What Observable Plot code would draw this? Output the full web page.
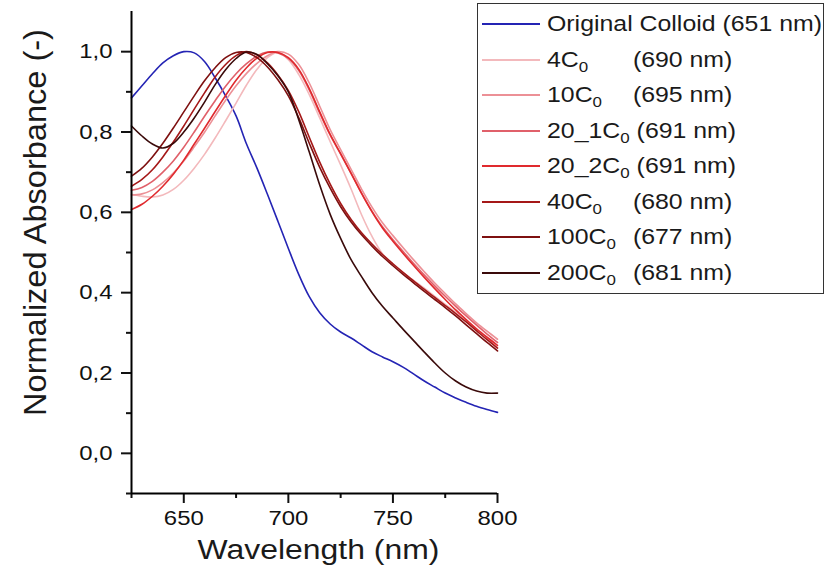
<!DOCTYPE html>
<html><head><meta charset="utf-8">
<script src="https://cdn.jsdelivr.net/npm/d3@7"></script>
<script src="https://cdn.jsdelivr.net/npm/@observablehq/plot@0.6"></script>
<style>
html,body{margin:0;padding:0;background:#fff;}
#wrap{position:relative;width:830px;height:575px;font-family:"Liberation Sans",Arial,sans-serif;}
#legend{position:absolute;left:477px;top:3px;width:347px;height:291px;border:1px solid #333;background:#fff;box-sizing:border-box;}
.swatch{position:absolute;left:4px;width:58px;height:0;border-top:2px solid;}
.lbl{position:absolute;left:69px;white-space:nowrap;font-size:22px;line-height:22px;transform:scaleX(1.13);transform-origin:left center;color:#1a1a1a;}
.name{display:inline-block;min-width:76px;}
.lbl sub{font-size:15px;vertical-align:-5px;line-height:0;}
</style></head>
<body><div id="wrap"><div id="chart"></div><div id="legend"></div></div>
<script>
const wavelengths = [625,630,635,640,645,650,655,660,665,670,675,680,685,690,695,700,705,710,715,720,725,730,735,740,745,750,755,760,765,770,775,780,785,790,795,800];

const original = [0.885,0.915,0.945,0.972,0.990,1.000,0.997,0.975,0.935,0.890,0.840,0.770,0.710,0.645,0.578,0.510,0.445,0.390,0.350,0.322,0.302,0.287,0.270,0.253,0.240,0.228,0.214,0.197,0.180,0.165,0.150,0.138,0.127,0.117,0.109,0.102];
const c4 = [0.645,0.640,0.638,0.643,0.657,0.680,0.710,0.745,0.785,0.828,0.872,0.917,0.956,0.985,0.998,0.980,0.943,0.893,0.835,0.776,0.718,0.658,0.594,0.540,0.497,0.470,0.449,0.430,0.411,0.391,0.371,0.351,0.330,0.308,0.286,0.264];
const c10 = [0.643,0.646,0.656,0.674,0.698,0.728,0.763,0.800,0.840,0.879,0.915,0.946,0.971,0.990,1.000,0.994,0.968,0.922,0.864,0.806,0.756,0.707,0.658,0.613,0.574,0.542,0.511,0.481,0.452,0.424,0.398,0.372,0.348,0.325,0.304,0.284];
const c20_1 = [0.655,0.662,0.677,0.700,0.728,0.762,0.800,0.840,0.878,0.914,0.945,0.970,0.989,0.999,0.997,0.983,0.953,0.905,0.847,0.792,0.745,0.697,0.648,0.603,0.564,0.532,0.502,0.472,0.444,0.417,0.391,0.366,0.342,0.319,0.297,0.276];
const c20_2 = [0.607,0.620,0.640,0.665,0.695,0.730,0.770,0.810,0.851,0.891,0.929,0.960,0.984,0.998,0.998,0.985,0.956,0.908,0.850,0.794,0.746,0.697,0.647,0.601,0.561,0.528,0.497,0.467,0.438,0.410,0.383,0.357,0.333,0.310,0.289,0.269];
const c40 = [0.665,0.682,0.706,0.738,0.775,0.815,0.857,0.898,0.937,0.968,0.990,1.000,0.992,0.972,0.942,0.903,0.850,0.787,0.725,0.670,0.622,0.582,0.549,0.521,0.495,0.472,0.450,0.429,0.408,0.388,0.368,0.348,0.327,0.305,0.283,0.262];
const c100 = [0.690,0.710,0.738,0.772,0.810,0.850,0.890,0.928,0.960,0.985,0.998,0.998,0.985,0.962,0.930,0.890,0.835,0.772,0.712,0.660,0.614,0.576,0.544,0.516,0.490,0.467,0.445,0.424,0.403,0.383,0.363,0.342,0.320,0.298,0.276,0.255];
const c200 = [0.815,0.790,0.770,0.760,0.772,0.800,0.835,0.875,0.918,0.955,0.983,0.999,0.993,0.970,0.940,0.900,0.830,0.750,0.668,0.595,0.535,0.482,0.440,0.400,0.366,0.337,0.308,0.280,0.252,0.225,0.200,0.180,0.165,0.155,0.150,0.150];

const seriesKeys = ["orig","c4","c10","c20_1","c20_2","c40","c100","c200"];
const seriesBase = ["Original Colloid","4C","10C","20_1C","20_2C","40C","100C","200C"];
const seriesPeaks = ["651 nm","690 nm","695 nm","691 nm","691 nm","680 nm","677 nm","681 nm"];
const seriesColors = ["#2424b4","#f3b9bc","#ec9096","#e0606a","#e02a2e","#a51818","#7e1010","#3a0a0a"];
const seriesValues = [original,c4,c10,c20_1,c20_2,c40,c100,c200];

const xMajorTicks = [650,700,750,800];
const xMinorTicks = [625,675,725,775];
const yMajorTicks = [0,0.2,0.4,0.6,0.8,1.0];
const yMinorTicks = [-0.1,0.1,0.3,0.5,0.7,0.9];

const data = [];
seriesValues.forEach((vals, k) => vals.forEach((v, i) => data.push({wl: wavelengths[i], v, key: seriesKeys[k]})));

const fmtY = d => d.toFixed(1).replace(".", ",");

const chart = Plot.plot({
  width: 830, height: 575,
  marginLeft: 131, marginRight: 333, marginTop: 11, marginBottom: 82,
  style: {fontFamily: "Liberation Sans, Arial, sans-serif", background: "white", color: "#111", overflow: "visible"},
  x: {domain: [625, 800]},
  y: {domain: [-0.1, 1.1]},
  color: {domain: seriesKeys, range: seriesColors},
  marks: [
    Plot.line(data, {x: "wl", y: "v", z: "key", stroke: "key", strokeWidth: 1.6, curve: "catmull-rom"}),
    Plot.axisX({ticks: xMinorTicks, tickSize: 5, strokeWidth: 2, tickFormat: () => "", label: null}),
    Plot.axisX({ticks: xMajorTicks, tickSize: 10, strokeWidth: 2, tickPadding: 7, fontSize: 21, tickFormat: d => String(d), label: null}),
    Plot.axisY({ticks: yMinorTicks, tickSize: 5, strokeWidth: 2, tickFormat: () => "", label: null}),
    Plot.axisY({ticks: yMajorTicks, tickSize: 10, strokeWidth: 2, tickPadding: 9, fontSize: 21, tickFormat: fmtY, label: null}),
    Plot.ruleX([625], {strokeWidth: 2, stroke: "#000"}),
    Plot.ruleY([-0.1], {strokeWidth: 2, stroke: "#000"}),
    Plot.text(["Wavelength (nm)"], {frameAnchor: "bottom", dy: 57, dx: 4, fontSize: 28, lineAnchor: "middle", textAnchor: "middle", fill: "#1a1a1a"}),
    Plot.text(["Normalized Absorbance (-)"], {frameAnchor: "left", rotate: -90, dx: -95, dy: -30, fontSize: 31, lineAnchor: "middle", textAnchor: "middle", fill: "#1a1a1a"})
  ]
});
document.getElementById("chart").appendChild(chart);

function stretch(t, s) {
  const tr = t.getAttribute("transform");
  if (tr) t.setAttribute("transform", tr + ` scale(${s},1)`);
  else {
    const x = +t.getAttribute("x") || 0, y = +t.getAttribute("y") || 0;
    t.setAttribute("transform", `translate(${x},${y}) scale(${s},1) translate(${-x},${-y})`);
  }
}
chart.querySelectorAll('g[aria-label="x-axis tick label"] text, g[aria-label="y-axis tick label"] text').forEach(t => stretch(t, 1.14));
chart.querySelectorAll('text').forEach(t => {
  if (t.textContent === "Wavelength (nm)") stretch(t, 1.14);
  if (t.textContent === "Normalized Absorbance (-)") stretch(t, 1.05);
});

const legend = document.getElementById("legend");
seriesKeys.forEach((k, i) => {
  const cy = 20 + i * 35.5;
  const sw = document.createElement("div");
  sw.className = "swatch";
  sw.style.top = (cy - 1) + "px";
  sw.style.borderTopColor = seriesColors[i];
  legend.appendChild(sw);
  const lb = document.createElement("div");
  lb.className = "lbl";
  lb.style.top = (cy - 11) + "px";
  if (i === 0) {
    lb.textContent = seriesBase[i] + " (" + seriesPeaks[i] + ")";
  } else {
    const nm = document.createElement("span");
    nm.className = "name";
    if (seriesBase[i].startsWith("20_")) nm.style.minWidth = "0";
    nm.append(seriesBase[i]);
    const sub = document.createElement("sub");
    sub.textContent = "0";
    nm.appendChild(sub);
    lb.appendChild(nm);
    lb.append((seriesBase[i].startsWith("20_") ? " " : "") + "(" + seriesPeaks[i] + ")");
  }
  legend.appendChild(lb);
});
</script>
</body></html>
